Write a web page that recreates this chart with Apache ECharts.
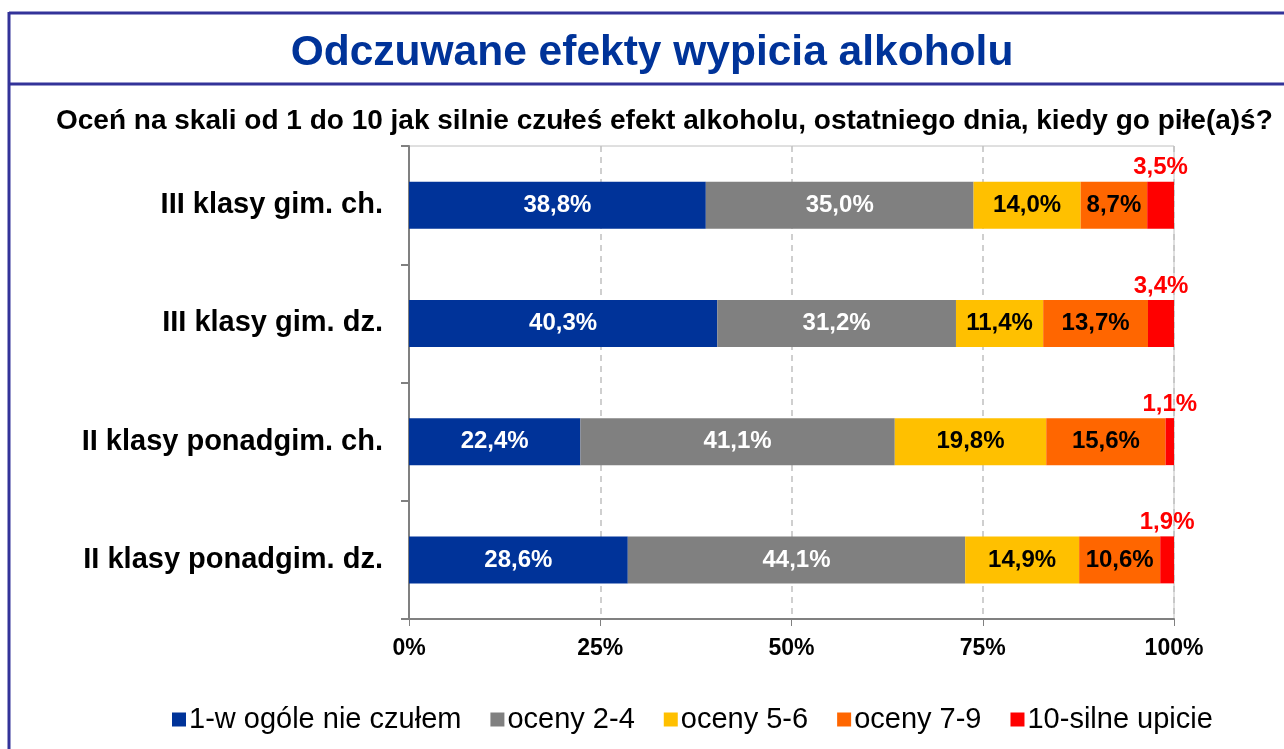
<!DOCTYPE html>
<html>
<head>
<meta charset="utf-8">
<script src="https://cdn.jsdelivr.net/npm/echarts@6/dist/echarts.min.js"></script>
<style>
  html, body { margin: 0; padding: 0; background: #fff; }
  #chart { width: 1284px; height: 749px; }
</style>
</head>
<body>
<div id="chart"></div>
<script>
// Groups surveyed (top to bottom)
const categories = ['III klasy gim. ch.', 'III klasy gim. dz.', 'II klasy ponadgim. ch.', 'II klasy ponadgim. dz.'];

// Share of answers per rating band, in percent
const ratingNone   = [38.8, 40.3, 22.4, 28.6];
const rating2to4   = [35.0, 31.2, 41.1, 44.1];
const rating5to6   = [14.0, 11.4, 19.8, 14.9];
const rating7to9   = [8.7, 13.7, 15.6, 10.6];
const rating10     = [3.5, 3.4, 1.1, 1.9];

const seriesNames = ['1-w ogóle nie czułem', 'oceny 2-4', 'oceny 5-6', 'oceny 7-9', '10-silne upicie'];
const xTicks = [0, 25, 50, 75, 100];

const FONT = '"Liberation Sans", Arial, sans-serif';
const fmt = v => v.toFixed(1).replace('.', ',') + '%';

const chart = echarts.init(document.getElementById('chart'), null, { renderer: 'canvas' });

function barSeries(name, data, color, labelColor, position) {
  return {
    name, type: 'bar', stack: 'total', data,
    barWidth: 47,
    itemStyle: { color },
    label: {
      show: true,
      position: position || 'inside',
      distance: 2,
      formatter: p => fmt(p.value),
      color: labelColor,
      fontFamily: FONT,
      fontWeight: 'bold',
      fontSize: 24
    }
  };
}

chart.setOption({
  animation: false,
  backgroundColor: '#fff',
  title: [
    {
      text: 'Odczuwane efekty wypicia alkoholu',
      left: 647, top: 27, textAlign: 'center',
      textStyle: { color: '#003399', fontSize: 42.5, fontWeight: 'bold', fontFamily: FONT }
    },
    {
      text: 'Oceń na skali od 1 do 10 jak silnie czułeś efekt alkoholu, ostatniego dnia, kiedy go piłe(a)ś?',
      left: 51, top: 102,
      textStyle: { color: '#000', fontSize: 28, fontWeight: 'bold', fontFamily: FONT }
    }
  ],
  graphic: [
    // outer frame and title box
    { type: 'line', shape: { x1: 9, y1: 13, x2: 1284, y2: 13 }, style: { stroke: '#333399', lineWidth: 3 } },
    { type: 'line', shape: { x1: 9, y1: 84, x2: 1284, y2: 84 }, style: { stroke: '#333399', lineWidth: 3 } },
    { type: 'line', shape: { x1: 9, y1: 12, x2: 9, y2: 749 }, style: { stroke: '#333399', lineWidth: 3 } }
  ],
  legend: {
    top: 700, left: 167,
    itemWidth: 14, itemHeight: 14, itemGap: 29,
    icon: 'rect',
    textStyle: { fontSize: 29, fontFamily: FONT, color: '#000', padding: [0, 0, 0, -2] },
    data: seriesNames
  },
  grid: {
    left: 409, right: 110, top: 146, bottom: 130,
    show: true, borderColor: '#c0c0c0', borderWidth: 1
  },
  xAxis: {
    type: 'value', min: xTicks[0], max: xTicks[xTicks.length - 1], interval: 25,
    axisLine: { show: true, lineStyle: { color: '#808080', width: 2 } },
    axisTick: { show: true, length: 7, lineStyle: { color: '#808080' } },
    axisLabel: { formatter: '{value}%', fontFamily: FONT, fontWeight: 'bold', fontSize: 23, color: '#000', margin: 18 },
    splitLine: { show: true, lineStyle: { color: '#c0c0c0', type: [6, 5], width: 1.5 } }
  },
  yAxis: {
    type: 'category', data: categories, inverse: true,
    axisLine: { show: true, lineStyle: { color: '#808080', width: 2 } },
    axisTick: { show: true, length: 8, lineStyle: { color: '#808080', width: 2 } },
    axisLabel: { fontFamily: FONT, fontWeight: 'bold', fontSize: 29, color: '#000', margin: 26 }
  },
  series: [
    barSeries(seriesNames[0], ratingNone, '#003399', '#fff'),
    barSeries(seriesNames[1], rating2to4, '#808080', '#fff'),
    barSeries(seriesNames[2], rating5to6, '#FFC000', '#000'),
    barSeries(seriesNames[3], rating7to9, '#FF6600', '#000'),
    barSeries(seriesNames[4], rating10, '#FF0000', '#FF0000', 'top')
  ]
});
</script>
</body>
</html>
